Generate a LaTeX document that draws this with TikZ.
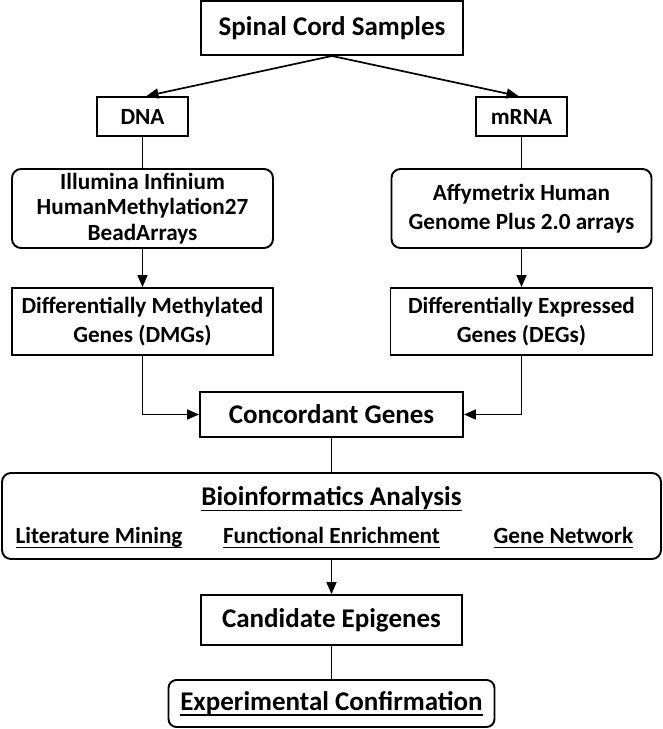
\documentclass[tikz,border=0pt]{standalone}
\usepackage{fontspec}
\setmainfont{Carlito}
\usetikzlibrary{arrows.meta}
\newcommand\myul[1]{\setbox0\hbox{#1}\rlap{\rule[-0.2em]{\wd0}{1.7pt}}\box0}
\begin{document}
\begin{tikzpicture}[x=1pt,y=-1pt,
  box/.style={draw, line width=1.9pt, inner sep=0pt, align=center,
    font=\bfseries\fontsize{23.2}{28.5}\selectfont},
  rbox/.style={box, rounded corners=9pt},
  big/.style={font=\bfseries\fontsize{27}{32}\selectfont},
  txt/.style={inner sep=0pt, font=\bfseries\fontsize{23.2}{28}\selectfont},
  bigtxt/.style={inner sep=0pt, font=\bfseries\fontsize{27}{32}\selectfont},
  arr/.style={line width=1.7pt, -{Triangle[length=12pt,width=10pt]}},
  ln/.style={line width=1.7pt}]
\useasboundingbox (0,0) rectangle (663,729);

\node[box,big,minimum width=262pt,minimum height=54pt] (spinal) at (332,28) {Spinal Cord Samples};
\node[box,minimum width=91pt,minimum height=39pt] (dna) at (142.5,116.5) {DNA};
\node[box,minimum width=91pt,minimum height=39pt] (mrna) at (521.5,116.5) {mRNA};
\node[rbox,minimum width=261pt,minimum height=79pt,font=\bfseries\fontsize{23.2}{25.5}\selectfont] (illu) at (142.5,208.5) {Illumina Infinium\\HumanMethylation27\\BeadArrays};
\node[rbox,minimum width=260pt,minimum height=79pt] (affy) at (521.5,208.5) {Affymetrix Human\\Genome Plus 2.0 arrays};
\node[box,minimum width=261pt,minimum height=67pt] (dmg) at (142.5,321.5) {Differentially Methylated\\Genes (DMGs)};
\node[box,minimum width=262pt,minimum height=67pt] (deg) at (521.5,321.5) {Differentially Expressed\\Genes (DEGs)};
\node[box,big,minimum width=263pt,minimum height=45pt] (conc) at (331.5,414.5) {Concordant Genes};
\node[rbox,minimum width=659pt,minimum height=86pt] (bio) at (331.5,516) {};
\node[bigtxt] (biot) at (331.5,499) {\myul{Bioinformatics Analysis}};
\node[txt] (lit) at (99,538) {\myul{Literature Mining}};
\node[txt] (func) at (331.5,538) {\myul{Functional Enrichment}};
\node[txt] (gnet) at (563.5,538) {\myul{Gene Network}};
\node[box,big,minimum width=261pt,minimum height=50pt] (cand) at (331.5,620) {Candidate Epigenes};
\node[rbox,big,minimum width=326pt,minimum height=47pt,rounded corners=8pt] (exp) at (331.5,703.5) {\myul{Experimental Confirmation}};

\draw[arr] (spinal.south) -- ([xshift=4pt]dna.north);
\draw[arr] (spinal.south) -- ([xshift=-3pt]mrna.north);
\draw[ln] (dna.south) -- (illu.north);
\draw[ln] (mrna.south) -- (affy.north);
\draw[arr] (illu.south) -- (dmg.north);
\draw[arr] (affy.south) -- (deg.north);
\draw[arr] (dmg.south) |- (conc.west);
\draw[arr] (deg.south) |- (conc.east);
\draw[ln] (conc.south) -- (bio.north);
\draw[arr] (bio.south) -- (cand.north);
\draw[ln] (cand.south) -- (exp.north);
\end{tikzpicture}
\end{document}
